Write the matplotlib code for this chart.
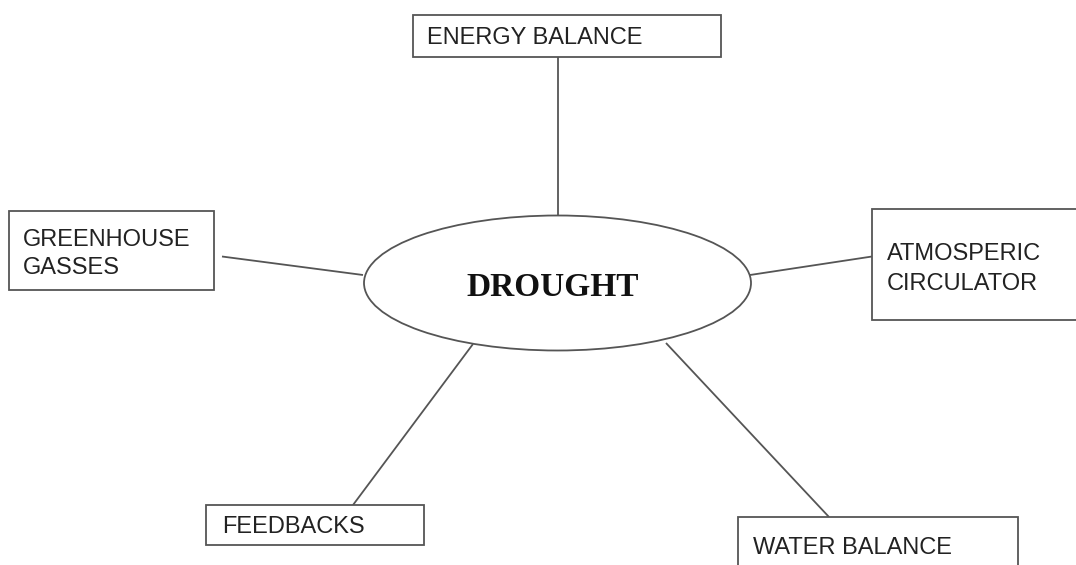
import matplotlib
matplotlib.use("Agg")
import matplotlib.pyplot as plt
from matplotlib.patches import Rectangle, Ellipse

# ---- content ----
center_label = "DROUGHT"
node_labels = [
    ["ENERGY BALANCE"],
    ["GREENHOUSE", "GASSES"],
    ["ATMOSPERIC", "CIRCULATOR"],
    ["FEEDBACKS"],
    ["WATER BALANCE"],
]

# ---- layout (pixel coordinates, y downward) ----
W, H = 1076, 565
box_rects = [  # x0, y0, x1, y1
    (413, 15, 721, 57),
    (9, 211, 214, 290),
    (872, 209, 1085, 320),
    (206, 505, 424, 545),
    (738, 517, 1018, 600),
]
text_pos = [  # x, first baseline
    (427, 44),
    (23, 246),
    (887, 260),
    (222, 533),
    (753, 554),
]
line_gaps = [0, 28, 30, 0, 0]
connectors = [  # (x_ellipse, y_ellipse, x_box, y_box)
    (558, 216, 558, 57),
    (363, 275, 222, 256.5),
    (750, 275, 872, 256.5),
    (473, 344, 353, 505),
    (666, 343, 829, 517),
]
ell_center = (557.5, 283)
ell_w, ell_h = 387, 135

edge = "#555555"
lw = 1.3

fig = plt.figure(figsize=(W / 100, H / 100), dpi=100)
ax = fig.add_axes([0, 0, 1, 1])
ax.set_xlim(0, W)
ax.set_ylim(H, 0)
ax.axis("off")

for (xe, ye, xb, yb) in connectors:
    ax.plot([xe, xb], [ye, yb], color=edge, lw=lw, solid_capstyle="butt", zorder=1)

for (x0, y0, x1, y1) in box_rects:
    ax.add_patch(Rectangle((x0, y0), x1 - x0, y1 - y0, fill=True, facecolor="white",
                           edgecolor=edge, lw=lw, zorder=2))

for lines, (tx, ty), gap in zip(node_labels, text_pos, line_gaps):
    for i, s in enumerate(lines):
        ax.text(tx, ty + i * gap, s, ha="left", va="baseline",
                fontsize=17, family="Liberation Sans", color="#222222", zorder=3)

ax.add_patch(Ellipse(ell_center, ell_w, ell_h, facecolor="white", edgecolor=edge,
                     lw=lw, zorder=2))
ax.text(553, 296.5, center_label, ha="center", va="baseline", fontsize=24,
        family="Liberation Serif", fontweight="bold", color="#111111", zorder=3)

fig.savefig("out.png", dpi=100)
